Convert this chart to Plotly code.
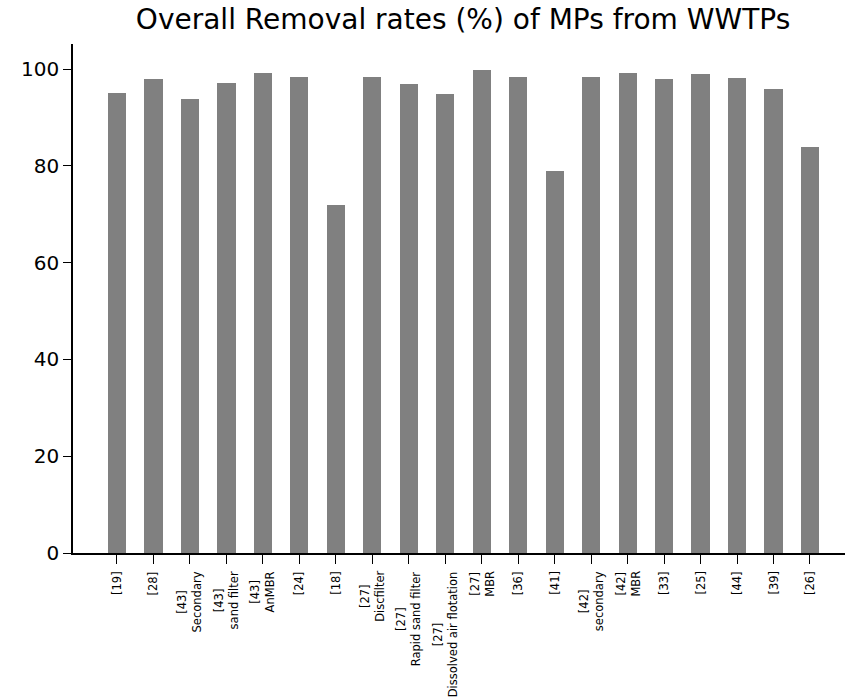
import plotly.graph_objects as go

# Study references / treatment stages and overall removal rates (%)
labels = [
    "[19]", "[28]", "[43]<br>Secondary", "[43]<br>sand filter", "[43]<br>AnMBR",
    "[24]", "[18]", "[27]<br>Discfilter", "[27]<br>Rapid sand filter",
    "[27]<br>Dissolved air flotation", "[27]<br>MBR", "[36]", "[41]",
    "[42]<br>secondary", "[42]<br>MBR", "[33]", "[25]", "[44]", "[39]", "[26]",
]
removal = [95.0, 97.9, 93.8, 97.1, 99.3, 98.3, 72.0, 98.4, 97.0, 94.8,
           99.8, 98.3, 79.0, 98.3, 99.3, 97.9, 99.1, 98.1, 95.9, 84.0]
y_ticks = [0, 20, 40, 60, 80, 100]

FONT = "DejaVu Sans"
x_idx = list(range(len(labels)))

fig = go.Figure(
    go.Bar(
        x=x_idx,
        y=removal,
        width=0.5,
        marker=dict(color="#808080", line=dict(width=0)),
    )
)

# Rotated category labels beneath the axis, multi-line labels centred
for i, lab in zip(x_idx, labels):
    fig.add_annotation(
        x=i, y=0, xref="x", yref="paper",
        text=lab, textangle=-90, showarrow=False,
        xanchor="center", yanchor="top", yshift=-16,
        align="center",
        font=dict(family=FONT, size=11.5, color="black"),
    )

fig.update_layout(
    width=845, height=698,
    margin=dict(l=73, r=0, t=44, b=145),
    plot_bgcolor="white", paper_bgcolor="white",
    showlegend=False,
    bargap=0,
    title=dict(
        text="Overall Removal rates (%) of MPs from WWTPs",
        x=0.548, xref="container", xanchor="center",
        y=0.972, yref="container", yanchor="middle",
        font=dict(family=FONT, size=28, color="black"),
    ),
    font=dict(family=FONT, color="black"),
)

fig.update_xaxes(
    range=[-1.206, 19.96],
    tickmode="array", tickvals=x_idx, showticklabels=False,
    ticks="outside", ticklen=9, tickwidth=1.3, tickcolor="black",
    showline=True, linecolor="black", linewidth=1.5,
    showgrid=False, zeroline=False,
)
fig.update_yaxes(
    range=[0, 105.2],
    tickmode="array", tickvals=y_ticks,
    ticks="outside", ticklen=8, tickwidth=1.3, tickcolor="black",
    tickfont=dict(family=FONT, size=20, color="black"),
    showline=True, linecolor="black", linewidth=1.5,
    showgrid=False, zeroline=False,
)

fig.write_html("out.html")
